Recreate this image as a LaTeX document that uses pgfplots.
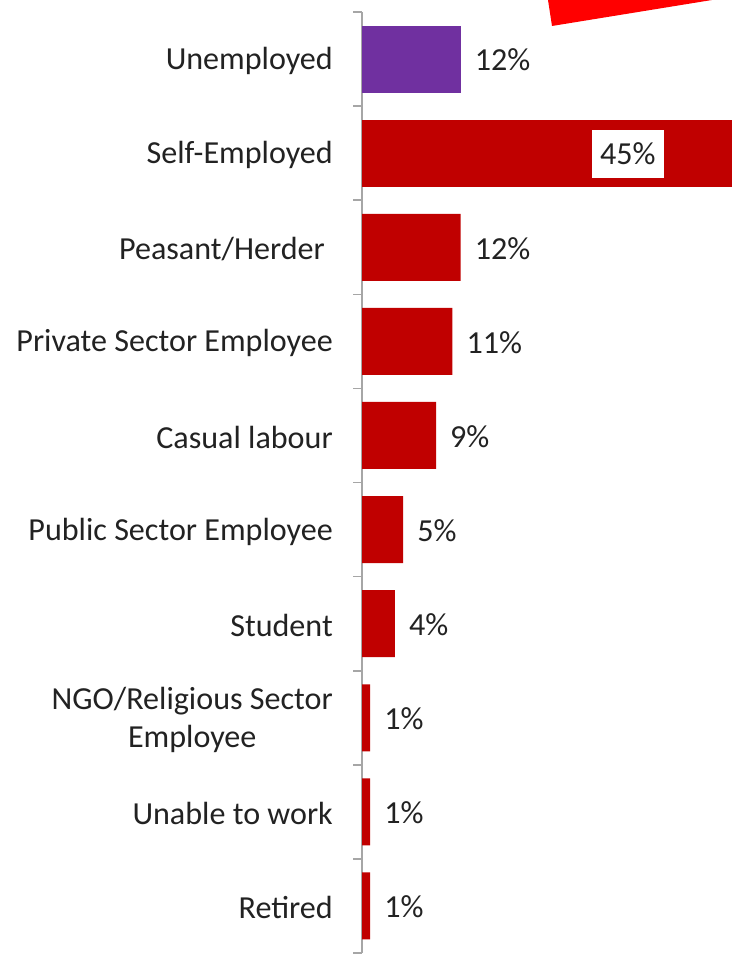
\documentclass[border=0pt]{standalone}
\usepackage{pgfplots}
\pgfplotsset{compat=1.18}
\usepackage{fontspec}
\setmainfont{Carlito}
\definecolor{barred}{HTML}{C00000}
\definecolor{barpurple}{HTML}{7030A0}
\definecolor{txt}{HTML}{222222}
\definecolor{axgray}{HTML}{A6A6A6}
\definecolor{deco}{HTML}{FF0000}

\begin{document}
\fontsize{32.1}{38}\selectfont
\begin{tikzpicture}[x=1pt,y=1pt]
\path[use as bounding box] (0,0) rectangle (740,958);
% red shape cut by the top edge
\fill[deco] (548,958) -- (552,932) -- (712,958) -- cycle;
\begin{axis}[
  at={(362pt,5pt)}, anchor=south west,
  scale only axis, width=370pt, height=941pt,
  xmin=0, xmax=45, ymin=-0.5, ymax=9.5, y dir=reverse,
  axis x line=none, axis y line=left,
  axis line style={-, draw=axgray, line width=1.6pt},
  ytick={0,...,9},
  yticklabels={Unemployed, Self-Employed, Peasant/Herder\hspace{8pt}, Private Sector Employee,
    Casual labour, Public Sector Employee, Student, {NGO/Religious Sector\\Employee},
    Unable to work, Retired},
  minor ytick={-0.5,0.5,...,9.5},
  major tick length=0pt, minor tick length=9pt, tick align=outside,
  minor tick style={draw=axgray, line width=1.6pt},
  yticklabel style={align=center, inner sep=0pt, xshift=-29pt, yshift=-2pt, text=txt},
  xbar, bar width=67pt, bar shift=0pt,
  point meta=x,
  /pgf/number format/assume math mode=true,
  nodes near coords={\pgfmathprintnumber{\pgfplotspointmeta}\%},
  every node near coord/.append style={anchor=west, inner sep=0pt, xshift=14pt, yshift=-1pt, text=txt},
  clip=false,
]
\addplot[fill=barpurple, draw=none] coordinates {(12,0)};
\addplot[fill=barred, draw=none,
  every node near coord/.append style={anchor=east, fill=white, minimum width=72pt,
    minimum height=48pt, xshift=-82pt}] coordinates {(45,1)};
\addplot[fill=barred, draw=none] coordinates {
  (12,2) (11,3) (9,4) (5,5) (4,6) (1,7) (1,8) (1,9)
};
\end{axis}
\end{tikzpicture}
\end{document}
